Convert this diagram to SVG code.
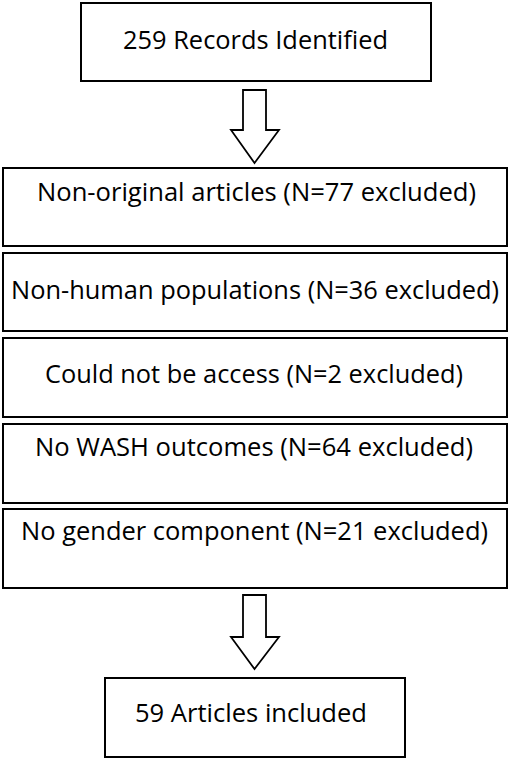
<svg xmlns="http://www.w3.org/2000/svg" width="510" height="760" viewBox="0 0 510 760">
<style>
.box{fill:#fff;stroke:#000;stroke-width:2}
.arr{fill:#fff;stroke:#000;stroke-width:1.8;stroke-linejoin:miter}
.t{font-family:"Open Sans","Liberation Sans",sans-serif;font-size:25.5px;fill:#000}
</style>
<rect width="510" height="760" fill="#fff"/>
<g id="n1"><rect class="box" x="81" y="3" width="350" height="78"/><text class="t" x="123" y="49" textLength="265" lengthAdjust="spacingAndGlyphs">259 Records Identified</text></g>
<g id="n2"><rect class="box" x="3" y="168" width="504" height="78"/><text class="t" x="37" y="201" textLength="439" lengthAdjust="spacingAndGlyphs">Non-original articles (N=77 excluded)</text></g>
<g id="n3"><rect class="box" x="3" y="253" width="504" height="78"/><text class="t" x="11" y="299" textLength="488" lengthAdjust="spacingAndGlyphs">Non-human populations (N=36 excluded)</text></g>
<g id="n4"><rect class="box" x="3" y="338" width="504" height="79"/><text class="t" x="45" y="383" textLength="418" lengthAdjust="spacingAndGlyphs">Could not be access (N=2 excluded)</text></g>
<g id="n5"><rect class="box" x="3" y="424" width="504" height="79"/><text class="t" x="35" y="456" textLength="438" lengthAdjust="spacingAndGlyphs">No WASH outcomes (N=64 excluded)</text></g>
<g id="n6"><rect class="box" x="3" y="509" width="504" height="79"/><text class="t" x="21" y="540" textLength="467" lengthAdjust="spacingAndGlyphs">No gender component (N=21 excluded)</text></g>
<g id="n7"><rect class="box" x="105" y="678" width="300" height="79"/><text class="t" x="135" y="722" textLength="232" lengthAdjust="spacingAndGlyphs">59 Articles included</text></g>
<g id="connectors">
<polygon class="arr" points="243,90 266,90 266,130 279,130 254.5,163 231,130 243,130"/>
<polygon class="arr" points="243,595 266,595 266,637 279,637 254.5,669 231,637 243,637"/>
</g>
</svg>
